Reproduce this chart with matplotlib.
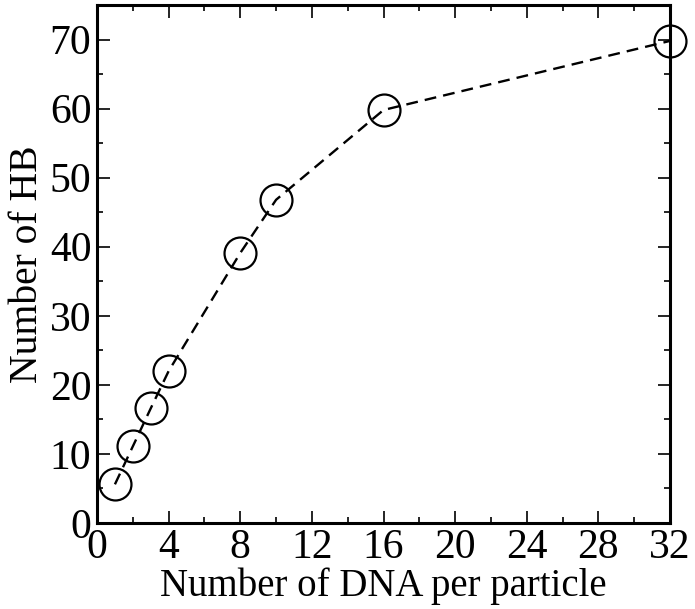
import matplotlib.pyplot as plt
from matplotlib.ticker import MultipleLocator

plt.rcParams['font.family'] = ['Liberation Serif', 'DejaVu Serif']

dna = [1, 2, 3, 4, 8, 10, 16, 32]
hb = [5.6, 11.1, 16.6, 22.0, 39.1, 46.8, 59.8, 69.8]

fig = plt.figure(figsize=(6.95, 6.09), dpi=100)
ax = fig.add_axes([0.1396, 0.1412, 0.8245, 0.8506])

ax.plot(dna, hb, color='black', linestyle=(0, (5, 3)), linewidth=1.7,
        marker='o', markersize=23, fillstyle='none', markeredgewidth=1.6,
        clip_on=False)

ax.set_xlim(0, 32)
ax.set_ylim(0, 75)
ax.xaxis.set_major_locator(MultipleLocator(4))
ax.xaxis.set_minor_locator(MultipleLocator(2))
ax.yaxis.set_major_locator(MultipleLocator(10))
ax.yaxis.set_minor_locator(MultipleLocator(5))
ax.tick_params(which='both', direction='in', top=True, right=True, labelsize=30, width=1.2)
ax.tick_params(which='major', length=9, pad=4)
ax.tick_params(which='minor', length=4.5)
for s in ax.spines.values():
    s.set_linewidth(2.2)

ax.set_xlabel("Number of DNA per particle", fontsize=28, labelpad=0)
ax.set_ylabel("Number of HB", fontsize=28.5, labelpad=3)

fig.savefig("out.png", dpi=100)
